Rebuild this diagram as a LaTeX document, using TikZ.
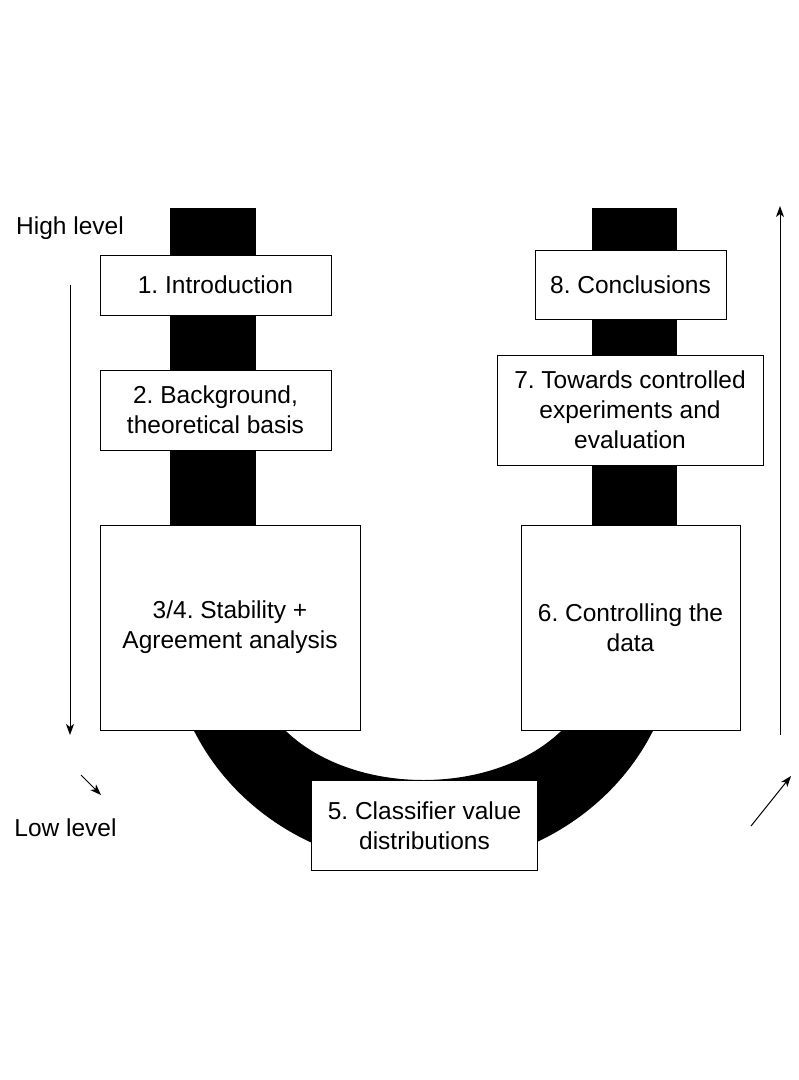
\documentclass[tikz,border=0pt]{standalone}
\usepackage{fontspec}
\setmainfont{Liberation Sans}
\usepackage{tikz}
\usetikzlibrary{arrows.meta}
\frenchspacing

\tikzset{
	chapter/.style={draw, fill=white, line width=1pt, inner sep=0pt, align=center},
	lvl/.style={line width=1pt, -{Stealth[length=11pt, width=8pt, inset=3pt]}}
}

\begin{document}
\begin{tikzpicture}[x=1pt, y=-1pt, font=\fontsize{24.5}{30}\selectfont]
	\useasboundingbox (0,0) rectangle (799,1080);
	\fill[black] (170,208) rectangle (256,660);
	\fill[black] (592,208) rectangle (677,660);
	\fill[black] (170,630) arc[start angle=180, end angle=360, x radius=253.5pt, y radius=237pt] -- (592,664) arc[start angle=0, end angle=-180, x radius=168.5pt, y radius=116pt] -- cycle;
	\node[chapter, minimum width=231pt, minimum height=60pt] (intro) at (215.5,285) {1. Introduction};
	\node[chapter, minimum width=231pt, minimum height=80pt] (backgr) at (215.5,410) {2. Background,\\theoretical basis};
	\node[chapter, minimum width=260pt, minimum height=205pt] (stab) at (230,627.5) {3/4. Stability +\\Agreement analysis};
	\node[chapter, minimum width=226pt, minimum height=90pt] (distr) at (424.5,825.5) {5. Classifier value\\distributions};
	\node[chapter, minimum width=219pt, minimum height=205pt] (ctrl) at (630.5,627.5) {6. Controlling the\\data};
	\node[chapter, minimum width=266pt, minimum height=110pt] (exper) at (630,410) {7. Towards controlled\\experiments and\\evaluation};
	\node[chapter, minimum width=191pt, minimum height=69pt] (concl) at (630.5,284.5) {8. Conclusions};
	\node (high) at (70,228) {High level};
	\node (low) at (65.5,828) {Low level};
	\coordinate (dtop) at (70,285);
	\coordinate (dbot) at (70,735);
	\coordinate (dsa) at (81,775);
	\coordinate (dsb) at (101,795);
	\coordinate (ubot) at (780,735);
	\coordinate (utop) at (780,206);
	\coordinate (usa) at (751,826);
	\coordinate (usb) at (791,776);
	\draw[lvl] (dtop) -- (dbot);
	\draw[lvl] (dsa) -- (dsb);
	\draw[lvl] (ubot) -- (utop);
	\draw[lvl] (usa) -- (usb);
\end{tikzpicture}
\end{document}
